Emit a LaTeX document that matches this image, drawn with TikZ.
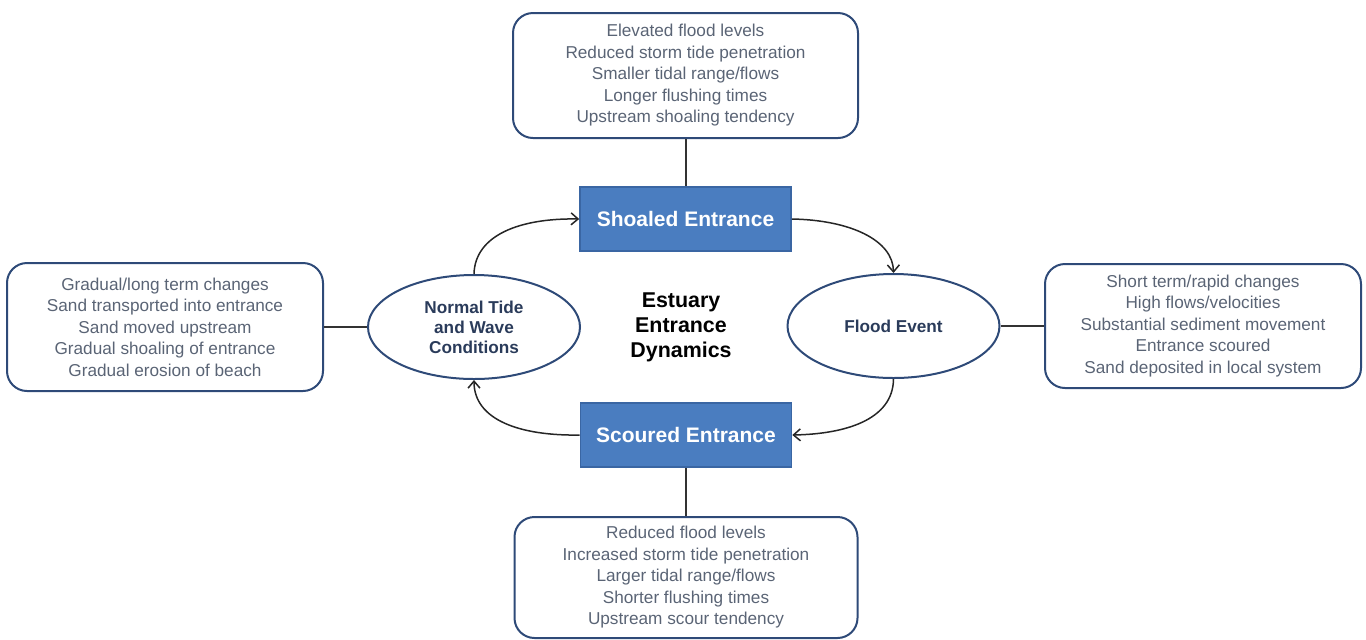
\documentclass[tikz,border=0pt]{standalone}
\usepackage{fontspec}
\setmainfont{Liberation Sans}
\usetikzlibrary{shapes.geometric,arrows.meta}
\definecolor{navy}{HTML}{2E4A78}
\definecolor{txt}{HTML}{5A6475}
\definecolor{navytxt}{HTML}{2A3B5A}
\definecolor{fillb}{HTML}{4A7DC0}
\definecolor{fillbd}{HTML}{3A66A3}
\definecolor{darkline}{HTML}{333333}
\begin{document}
\begin{tikzpicture}[x=0.5pt,y=-0.5pt,
 info/.style={draw=navy,line width=1pt,rounded corners=10pt,align=center,text=txt,font=\fontsize{8.6}{10.75}\selectfont,inner sep=0pt},
 ent/.style={draw=fillbd,fill=fillb,line width=0.8pt,text=white,font=\bfseries\fontsize{10.5}{12}\selectfont,minimum width=105.5pt,minimum height=32pt,inner sep=0pt},
 ell/.style={ellipse,draw=navy,line width=1pt,align=center,font=\bfseries\fontsize{8.6}{10}\selectfont,text=navytxt,inner sep=0pt},
 conn/.style={draw=darkline,line width=1pt},
 arr/.style={draw=black!85,line width=0.75pt,-{Straight Barb[length=3.5pt,width=6pt]}}]
\useasboundingbox (0,0) rectangle (1366,639);
\node[info,minimum width=172.5pt,minimum height=62.5pt] (top) at (685.5,75.5)
  {Elevated flood levels\\Reduced storm tide penetration\\Smaller tidal range/flows\\Longer flushing times\\Upstream shoaling tendency};
\node[ent] (shoaled) at (685.5,219) {Shoaled Entrance};
\node[ent] (scoured) at (686,435) {Scoured Entrance};
\node[info,minimum width=171.5pt,minimum height=60.5pt] (bottom) at (686,577.5)
  {Reduced flood levels\\Increased storm tide penetration\\Larger tidal range/flows\\Shorter flushing times\\Upstream scour tendency};
\node[info,minimum width=158pt,minimum height=64pt] (left) at (165,327)
  {Gradual/long term changes\\Sand transported into entrance\\Sand moved upstream\\Gradual shoaling of entrance\\Gradual erosion of beach};
\node[info,minimum width=158pt,minimum height=62pt] (right) at (1203,326)
  {Short term/rapid changes\\High flows/velocities\\Substantial sediment movement\\Entrance scoured\\Sand deposited in local system};
\node[ell,minimum width=106pt,minimum height=52pt] (normal) at (474,327) {Normal Tide\\and Wave\\Conditions};
\node[ell,minimum width=106pt,minimum height=52pt] (flood) at (893.5,326) {Flood Event};
\node[align=center,font=\bfseries\fontsize{10.7}{12.5}\selectfont,text=black,inner sep=0pt] (title) at (681,327) {Estuary\\Entrance\\Dynamics};
\draw[conn] (top.south) -- (shoaled.north);
\draw[conn] (scoured.south) -- (bottom.north);
\draw[conn] (left.east) -- (normal.west);
\draw[conn] (flood.east) -- (right.west);
\draw[arr] (normal.north) .. controls (475,235) and (520,218) .. (shoaled.west);
\draw[arr] (shoaled.east) .. controls (850,220) and (893,240) .. (flood.north);
\draw[arr] (flood.south) .. controls (893,420) and (845,434) .. (scoured.east);
\draw[arr] (scoured.west) .. controls (520,436) and (474,420) .. (normal.south);
\end{tikzpicture}
\end{document}
